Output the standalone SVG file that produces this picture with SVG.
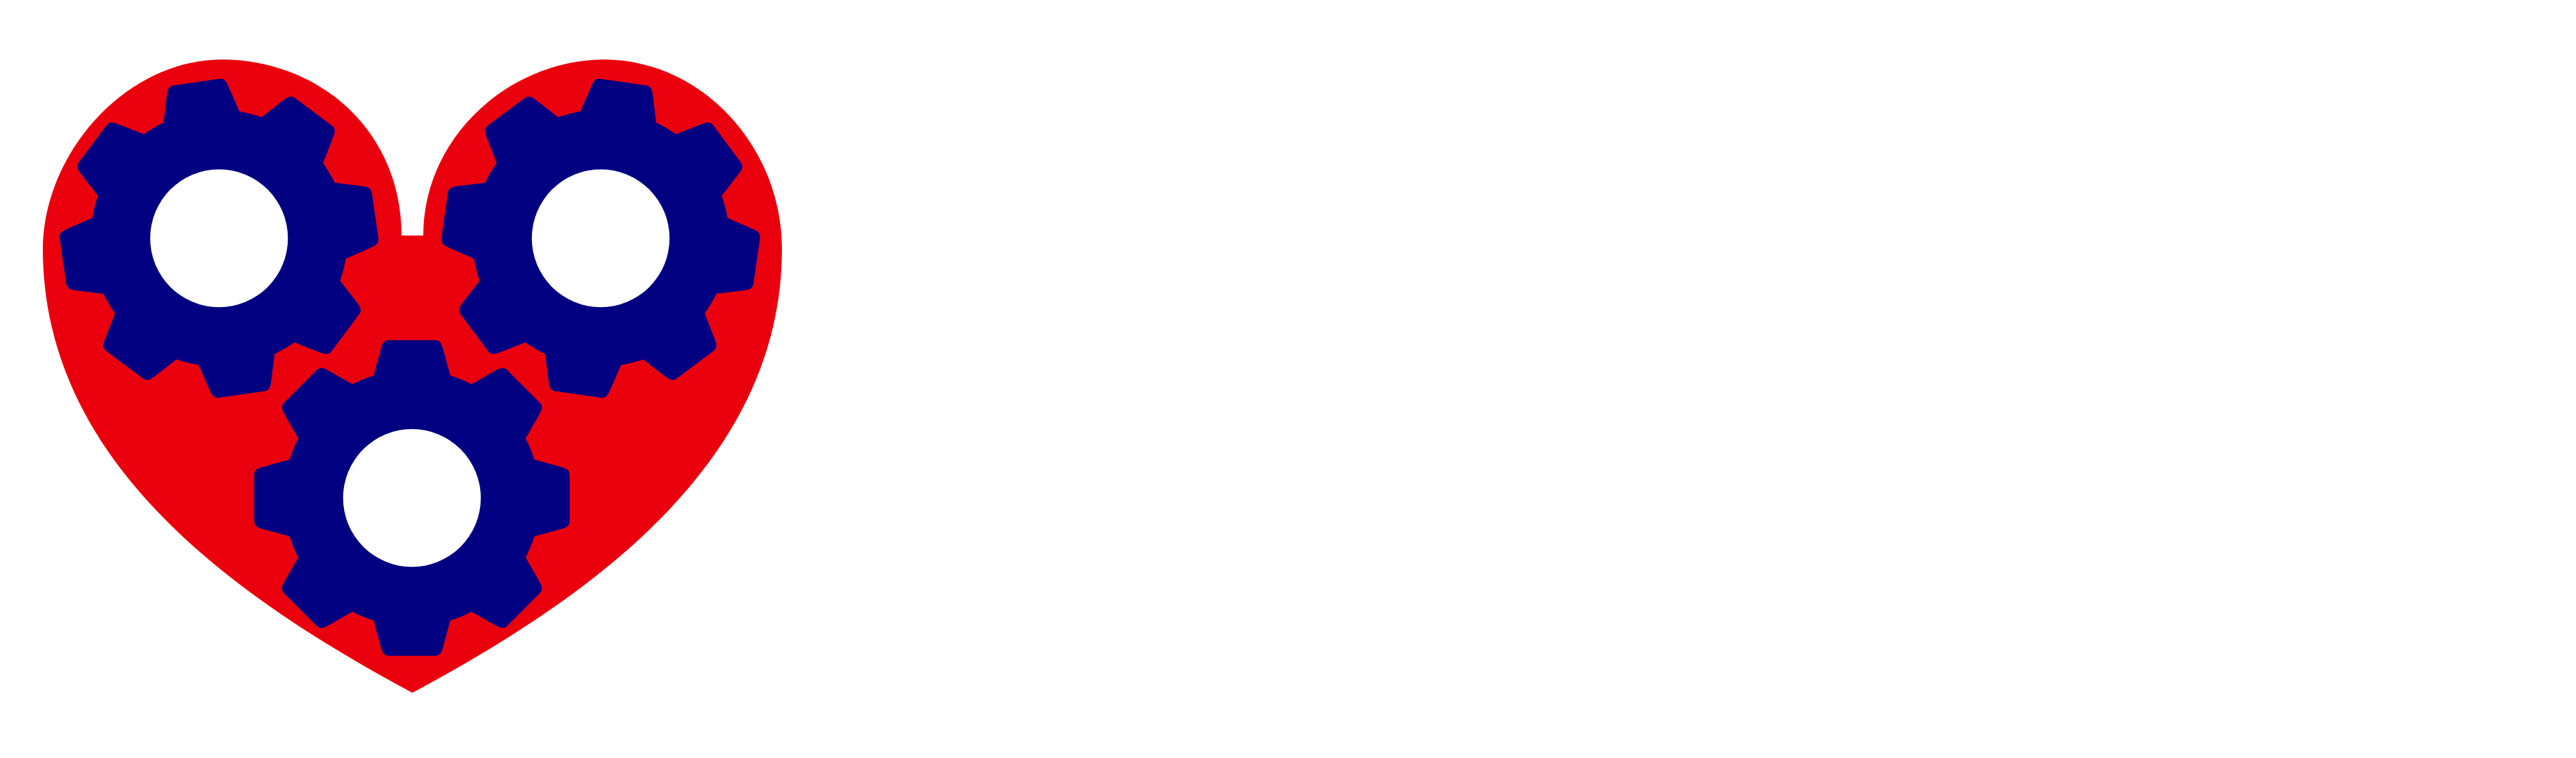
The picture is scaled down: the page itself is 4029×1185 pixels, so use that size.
<svg xmlns="http://www.w3.org/2000/svg" xmlns:xlink="http://www.w3.org/1999/xlink" width="4029" height="1185" viewBox="0 0 4029 1185">
<style>
.heart{fill:#ea000d}
.gear{fill:#000080}
.hole{fill:#fff}
</style>
<defs>
<path id="tooth" d="M-60,-191.5 L-50,-228 C-47,-238 -46,-246.7 -36,-246.7 H36 C46,-246.7 47,-238 50,-228 L60,-191.5 L0,0 Z"/>
<g id="gearShape">
<circle r="200.7"/>
<use href="#tooth"/>
<use href="#tooth" transform="rotate(45)"/>
<use href="#tooth" transform="rotate(90)"/>
<use href="#tooth" transform="rotate(135)"/>
<use href="#tooth" transform="rotate(180)"/>
<use href="#tooth" transform="rotate(225)"/>
<use href="#tooth" transform="rotate(270)"/>
<use href="#tooth" transform="rotate(315)"/>
</g>
</defs>
<rect width="4029" height="1185" fill="#fff"/>
<g id="heart">
<path class="heart" d="M645,1083 C360,930 67,720 67,389 C68,238 198,94 346,93 C500,93 628,205 628,368.3 H662 C662,215 795,95 943,93 C1100,93 1223,232 1223,389 C1223,720 930,930 645,1083 Z"/>
</g>
<g id="gear-left">
<use href="#gearShape" class="gear" transform="translate(342.6,372.5) rotate(-8.25)"/>
<circle class="hole" cx="342.6" cy="372.5" r="107.7"/>
</g>
<g id="gear-right">
<use href="#gearShape" class="gear" transform="translate(939.5,372.5) rotate(8.25)"/>
<circle class="hole" cx="939.5" cy="372.5" r="107.7"/>
</g>
<g id="gear-bottom">
<use href="#gearShape" class="gear" transform="translate(644.3,778.5)"/>
<circle class="hole" cx="644.3" cy="778.5" r="107.7"/>
</g>
<g id="connectors"/>
</svg>
